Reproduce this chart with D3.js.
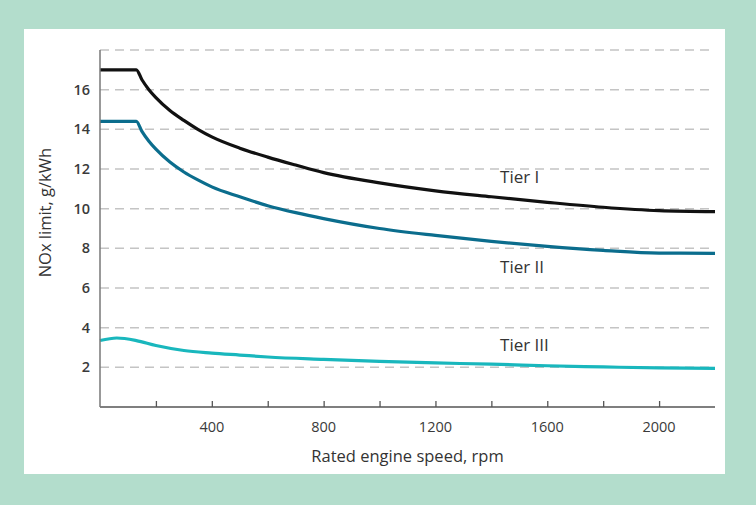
<!DOCTYPE html>
<html>
<head>
<meta charset="utf-8">
<script src="https://cdn.jsdelivr.net/npm/d3@7"></script>
<style>
  body { margin: 0; background: #b3ddcc; }
  svg { display: block; font-family: "Open Sans", sans-serif; }
  .grid line { stroke: #c4c4c4; stroke-width: 1.5; stroke-dasharray: 9 6; }
  .tick-lbl { fill: #3a3a3a; font-size: 14.5px; }
  .title { fill: #333; font-size: 16.5px; }
  .tier-lbl { fill: #333; font-size: 17px; }
  .tier-line { fill: none; stroke-width: 3.2; stroke-linejoin: round; }
</style>
</head>
<body>
<div id="chart"></div>
<script>
// rated engine speed (rpm) and NOx limit (g/kWh)
var tier1Rpm = [0, 130, 150, 175, 200, 250, 300, 350, 400, 500, 600, 700, 800, 1000, 1200, 1400, 1600, 1800, 2000, 2200]
var tier1Nox = [17.0, 17.0, 16.5, 16.0, 15.6, 14.95, 14.45, 14.0, 13.62, 13.05, 12.6, 12.2, 11.82, 11.3, 10.9, 10.6, 10.32, 10.07, 9.9, 9.85]

var tier2Rpm = [0, 130, 150, 175, 200, 250, 300, 350, 400, 500, 600, 700, 800, 1000, 1200, 1400, 1600, 1800, 2000, 2200]
var tier2Nox = [14.4, 14.4, 13.9, 13.4, 13.0, 12.35, 11.85, 11.45, 11.1, 10.6, 10.15, 9.8, 9.5, 9.0, 8.65, 8.35, 8.1, 7.9, 7.76, 7.75]

var tier3Rpm = [0, 60, 130, 200, 300, 400, 500, 600, 800, 1000, 1200, 1400, 1600, 1800, 2000, 2200]
var tier3Nox = [3.35, 3.48, 3.35, 3.1, 2.85, 2.72, 2.62, 2.52, 2.4, 2.3, 2.22, 2.16, 2.08, 2.02, 1.97, 1.95]

var tierNames = ['Tier I', 'Tier II', 'Tier III']
var tierColors = ['#111111', '#0b6d8d', '#19b7bd']
var tierLabelRpm = [1431, 1431, 1431]
var tierLabelNox = [11.3, 6.75, 2.8]

var xTicks = [200, 400, 600, 800, 1000, 1200, 1400, 1600, 1800, 2000]
var xLabels = [400, 800, 1200, 1600, 2000]
var yGrid = [2, 4, 6, 8, 10, 12, 14, 16, 18]
var yLabels = [2, 4, 6, 8, 10, 12, 14, 16]

var W = 756, H = 505
var margin = {left: 100, right: 41, top: 50, bottom: 98}
var width = W - margin.left - margin.right
var height = H - margin.top - margin.bottom

var svg = d3.select('#chart').append('svg').attr('width', W).attr('height', H)

// white panel on the green frame
svg.append('rect').attr('x', 24).attr('y', 29).attr('width', 701).attr('height', 445).attr('fill', '#fff')

var g = svg.append('g').attr('transform', 'translate(' + margin.left + ',' + margin.top + ')')

var x = d3.scaleLinear().domain([0, 2200]).range([0, width])
var y = d3.scaleLinear().domain([0, 18]).range([height, 0])

g.append('g').attr('class', 'grid')
  .selectAll('line').data(yGrid).join('line')
  .attr('x1', 0).attr('x2', width)
  .attr('y1', function(d){ return y(d) }).attr('y2', function(d){ return y(d) })

var series = [
  d3.zip(tier1Rpm, tier1Nox),
  d3.zip(tier2Rpm, tier2Nox),
  d3.zip(tier3Rpm, tier3Nox)
]

var line = d3.line()
  .x(function(d){ return x(d[0]) })
  .y(function(d){ return y(d[1]) })
  .curve(d3.curveMonotoneX)

g.selectAll('path.tier-line').data(series).join('path')
  .attr('class', 'tier-line')
  .attr('d', line)
  .attr('stroke', function(d, i){ return tierColors[i] })

g.selectAll('text.tier-lbl').data(tierNames).join('text')
  .attr('class', 'tier-lbl')
  .attr('x', function(d, i){ return x(tierLabelRpm[i]) })
  .attr('y', function(d, i){ return y(tierLabelNox[i]) })
  .text(function(d){ return d })

// axes
var xAxis = d3.axisBottom(x).tickValues(xTicks).tickSize(-6).tickFormat('')
g.append('g').attr('transform', 'translate(0,' + height + ')').call(xAxis)
  .call(function(s){
    s.select('.domain').attr('d', 'M0,0H' + width).attr('stroke', '#555').attr('stroke-width', 1.5)
    s.selectAll('.tick line').attr('stroke', '#555').attr('stroke-width', 1.3)
  })

g.append('line').attr('x1', 0).attr('x2', 0).attr('y1', 0).attr('y2', height)
  .attr('stroke', '#777').attr('stroke-width', 1.5)

g.selectAll('text.xl').data(xLabels).join('text')
  .attr('class', 'tick-lbl')
  .attr('x', function(d){ return x(d) })
  .attr('y', height + 25)
  .attr('text-anchor', 'middle')
  .text(function(d){ return d })

g.selectAll('text.yl').data(yLabels).join('text')
  .attr('class', 'tick-lbl')
  .attr('x', -10)
  .attr('y', function(d){ return y(d) })
  .attr('dy', '0.35em')
  .attr('text-anchor', 'end')
  .style('font-weight', 600)
  .text(function(d){ return d })

g.append('text').attr('class', 'title')
  .attr('x', width / 2).attr('y', height + 55)
  .attr('text-anchor', 'middle')
  .text('Rated engine speed, rpm')

g.append('text').attr('class', 'title')
  .attr('transform', 'translate(-49,' + (y(9.8)) + ') rotate(-90)')
  .attr('text-anchor', 'middle')
  .text('NOx limit, g/kWh')
</script>
</body>
</html>
